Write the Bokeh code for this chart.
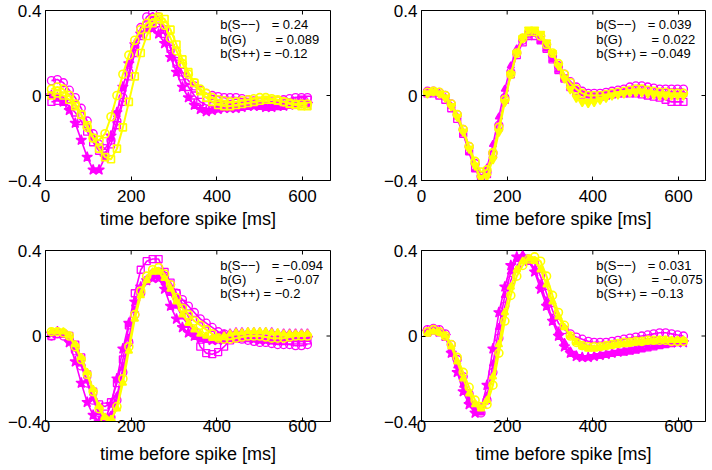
from bokeh.plotting import figure
from bokeh.layouts import gridplot
from bokeh.models import Range1d, FixedTicker, Label
from bokeh.embed import file_html
from bokeh.resources import INLINE

FONT = "Liberation Sans"
MAG = "#FF00FF"
YEL = "#FFFF00"

T = [13.9, 27.8, 41.7, 55.6, 69.5, 83.4, 97.3, 111.2, 125.1, 139.0,
     152.9, 166.8, 180.7, 194.6, 208.5, 222.4, 236.3, 250.2, 264.1, 278.0,
     291.9, 305.8, 319.7, 333.6, 347.5, 361.4, 375.3, 389.2, 403.1, 417.0,
     430.9, 444.8, 458.7, 472.6, 486.5, 500.4, 514.3, 528.2, 542.1, 556.0,
     569.9, 583.8, 597.7, 611.6]

XTICKS = [0, 200, 400, 600]
YTICKS = [-0.4, 0, 0.4]
YTICK_LABELS = {-0.4: "\u22120.4", 0: "0", 0.4: "0.4"}
XLABEL = "time before spike [ms]"

COEF_NAMES = ["b(S\u2212\u2212)", "b(G)", "b(S++)"]
P1_COEF = ["= 0.24", "= 0.089", "= \u22120.12"]
P2_COEF = ["= 0.039", "= 0.022", "= \u22120.049"]
P3_COEF = ["= \u22120.094", "= \u22120.07", "= \u22120.2"]
P4_COEF = ["= 0.031", "= \u22120.075", "= \u22120.13"]

# ---- panel 1 (top left)
P1_M_CIRCLE = [0.07, 0.075, 0.06, 0.025, -0.01, -0.06, -0.12, -0.18, -0.23, -0.25,
               -0.21, -0.12, -0.01, 0.11, 0.23, 0.32, 0.37, 0.39, 0.37, 0.31,
               0.23, 0.16, 0.11, 0.07, 0.045, 0.025, 0.01, 0.0, -0.005, -0.01,
               -0.01, -0.01, -0.015, -0.02, -0.025, -0.03, -0.03, -0.03, -0.025, -0.02,
               -0.015, -0.01, -0.01, -0.01]
P1_M_STAR = [0.0, -0.01, -0.03, -0.07, -0.13, -0.21, -0.29, -0.35, -0.35, -0.29,
             -0.19, -0.08, 0.04, 0.15, 0.24, 0.29, 0.315, 0.315, 0.29, 0.245,
             0.18, 0.11, 0.04, -0.01, -0.045, -0.065, -0.075, -0.07, -0.065, -0.06,
             -0.06, -0.06, -0.055, -0.05, -0.05, -0.05, -0.055, -0.055, -0.05, -0.05,
             -0.045, -0.04, -0.04, -0.04]
P1_M_SQUARE = [-0.03, -0.025, -0.03, -0.05, -0.08, -0.12, -0.17, -0.22, -0.26, -0.27,
               -0.23, -0.14, -0.03, 0.09, 0.2, 0.28, 0.33, 0.35, 0.34, 0.29,
               0.22, 0.15, 0.09, 0.04, 0.0, -0.03, -0.045, -0.05, -0.05, -0.045,
               -0.04, -0.035, -0.03, -0.03, -0.035, -0.04, -0.045, -0.05, -0.05, -0.045,
               -0.035, -0.025, -0.02, -0.02]
P1_Y_CIRCLE = [0.03, 0.04, 0.03, 0.0, -0.04, -0.09, -0.15, -0.2, -0.21, -0.18,
               -0.1, 0.0, 0.1, 0.19, 0.26, 0.31, 0.34, 0.36, 0.36, 0.33,
               0.27, 0.21, 0.15, 0.1, 0.06, 0.03, 0.01, -0.01, -0.02, -0.025,
               -0.03, -0.03, -0.025, -0.02, -0.015, -0.01, -0.01, -0.015, -0.02, -0.03,
               -0.035, -0.04, -0.04, -0.04]
P1_Y_SQUARE = [0.0, 0.01, 0.0, -0.02, -0.05, -0.09, -0.14, -0.2, -0.25, -0.29,
               -0.3, -0.25, -0.15, -0.03, 0.09, 0.2, 0.28, 0.34, 0.37, 0.36,
               0.31, 0.24, 0.17, 0.11, 0.06, 0.02, -0.01, -0.03, -0.045, -0.05,
               -0.05, -0.045, -0.04, -0.035, -0.03, -0.025, -0.02, -0.02, -0.025, -0.03,
               -0.04, -0.045, -0.05, -0.05]

# ---- panel 2 (top right)
P2_M_TRIANGLE = [0.01, 0.015, 0.01, -0.01, -0.05, -0.1, -0.18, -0.27, -0.35, -0.39,
                 -0.34, -0.23, -0.1, 0.03, 0.14, 0.22, 0.27, 0.29, 0.29, 0.26,
                 0.22, 0.17, 0.12, 0.08, 0.05, 0.03, 0.01, 0.0, -0.005, 0.0,
                 0.005, 0.01, 0.01, 0.015, 0.02, 0.02, 0.02, 0.015, 0.01, 0.01,
                 0.005, 0.005, 0.005, 0.005]
P2_M_CIRCLE = [0.02, 0.02, 0.015, 0.0, -0.04, -0.09, -0.16, -0.24, -0.32, -0.38,
               -0.36, -0.27, -0.14, -0.01, 0.11, 0.2, 0.26, 0.29, 0.3, 0.28,
               0.24, 0.19, 0.14, 0.1, 0.065, 0.04, 0.02, 0.01, 0.01, 0.01,
               0.015, 0.02, 0.025, 0.03, 0.04, 0.045, 0.045, 0.04, 0.035, 0.03,
               0.03, 0.03, 0.03, 0.03]
P2_M_SQUARE = [0.01, 0.01, 0.0, -0.02, -0.06, -0.11, -0.18, -0.26, -0.34, -0.39,
               -0.37, -0.28, -0.15, -0.02, 0.1, 0.19, 0.25, 0.28, 0.28, 0.26,
               0.22, 0.17, 0.12, 0.08, 0.04, 0.02, 0.0, -0.01, -0.01, -0.005,
               0.0, 0.005, 0.01, 0.01, 0.01, 0.01, 0.005, 0.0, -0.005, -0.01,
               -0.02, -0.03, -0.03, -0.03]
P2_Y_INVTRI = [0.01, 0.02, 0.01, -0.01, -0.05, -0.1, -0.17, -0.25, -0.33, -0.39,
               -0.38, -0.3, -0.17, -0.03, 0.1, 0.2, 0.27, 0.31, 0.31, 0.29,
               0.25, 0.2, 0.14, 0.08, 0.03, -0.01, -0.03, -0.035, -0.03, -0.02,
               -0.01, 0.0, 0.005, 0.01, 0.015, 0.015, 0.015, 0.01, 0.005, 0.0,
               0.0, 0.0, 0.0, 0.0]
P2_Y_CIRCLE = [0.015, 0.02, 0.015, 0.0, -0.04, -0.09, -0.16, -0.24, -0.31, -0.36,
               -0.35, -0.27, -0.15, -0.02, 0.1, 0.2, 0.27, 0.3, 0.3, 0.28,
               0.24, 0.2, 0.15, 0.1, 0.06, 0.03, 0.01, 0.0, 0.0, 0.0,
               0.005, 0.01, 0.015, 0.02, 0.025, 0.03, 0.03, 0.025, 0.02, 0.015,
               0.015, 0.01, 0.01, 0.01]

# ---- panel 3 (bottom left)
P3_M_STAR = [0.01, 0.02, 0.01, -0.03, -0.12, -0.22, -0.31, -0.37, -0.4, -0.39,
             -0.32, -0.2, -0.06, 0.06, 0.16, 0.23, 0.26, 0.27, 0.27, 0.22,
             0.14, 0.08, 0.04, 0.015, 0.0, -0.01, -0.015, -0.02, -0.02, -0.015,
             -0.01, -0.01, -0.01, -0.01, -0.015, -0.02, -0.02, -0.02, -0.015, -0.01,
             -0.01, -0.01, -0.01, -0.01]
P3_M_SQUARE = [0.0, 0.01, 0.01, 0.0, -0.04, -0.1, -0.18, -0.26, -0.32, -0.33,
               -0.31, -0.22, -0.11, 0.05, 0.2, 0.31, 0.35, 0.36, 0.36, 0.3,
               0.25, 0.2, 0.15, 0.09, 0.02, -0.05, -0.08, -0.085, -0.075, -0.05,
               -0.02, -0.01, -0.01, -0.01, -0.01, -0.01, -0.015, -0.02, -0.02, -0.02,
               -0.02, -0.02, -0.02, -0.02]
P3_M_CIRCLE = [0.0, 0.01, 0.0, -0.02, -0.07, -0.14, -0.22, -0.3, -0.36, -0.39,
               -0.38, -0.3, -0.17, -0.03, 0.1, 0.2, 0.26, 0.29, 0.3, 0.28,
               0.24, 0.2, 0.17, 0.14, 0.11, 0.08, 0.06, 0.04, 0.02, 0.01,
               0.0, -0.01, -0.015, -0.02, -0.025, -0.03, -0.03, -0.035, -0.04, -0.04,
               -0.04, -0.045, -0.045, -0.04]
P3_M_TRIANGLE = [0.01, 0.015, 0.01, -0.01, -0.06, -0.13, -0.21, -0.29, -0.36, -0.4,
                 -0.37, -0.28, -0.15, -0.01, 0.12, 0.21, 0.26, 0.28, 0.28, 0.25,
                 0.2, 0.14, 0.09, 0.05, 0.02, 0.0, -0.01, -0.01, 0.0, 0.01,
                 0.015, 0.02, 0.02, 0.02, 0.02, 0.02, 0.02, 0.02, 0.015, 0.015,
                 0.015, 0.015, 0.015, 0.015]
P3_Y_CIRCLE = [0.02, 0.02, 0.015, 0.0, -0.05, -0.11, -0.18, -0.26, -0.34, -0.39,
               -0.4, -0.33, -0.2, -0.05, 0.1, 0.21, 0.28, 0.31, 0.32, 0.29,
               0.24, 0.18, 0.13, 0.1, 0.07, 0.05, 0.03, 0.01, -0.01, -0.015,
               -0.015, -0.01, -0.005, 0.0, 0.0, 0.0, -0.005, -0.01, -0.01, -0.01,
               -0.005, 0.0, 0.0, 0.0]
P3_Y_TRIANGLE = [0.02, 0.02, 0.02, 0.0, -0.04, -0.1, -0.17, -0.25, -0.33, -0.38,
                 -0.39, -0.34, -0.22, -0.07, 0.08, 0.19, 0.26, 0.3, 0.3, 0.27,
                 0.22, 0.16, 0.1, 0.06, 0.03, 0.01, 0.0, -0.01, -0.01, 0.0,
                 0.01, 0.015, 0.015, 0.02, 0.02, 0.02, 0.02, 0.015, 0.015, 0.01,
                 0.01, 0.01, 0.01, 0.01]

# ---- panel 4 (bottom right)
P4_M_STAR = [0.02, 0.025, 0.02, 0.0, -0.08, -0.17, -0.26, -0.32, -0.36, -0.34,
             -0.23, -0.06, 0.11, 0.23, 0.33, 0.37, 0.37, 0.35, 0.3, 0.22,
             0.14, 0.07, 0.0, -0.05, -0.08, -0.095, -0.1, -0.1, -0.095, -0.09,
             -0.085, -0.08, -0.075, -0.07, -0.065, -0.06, -0.05, -0.04, -0.035, -0.03,
             -0.03, -0.03, -0.03, -0.03]
P4_M_CIRCLE = [0.03, 0.035, 0.03, 0.01, -0.04, -0.11, -0.19, -0.27, -0.33, -0.36,
               -0.3, -0.17, -0.01, 0.14, 0.26, 0.33, 0.36, 0.36, 0.34, 0.28,
               0.2, 0.12, 0.06, 0.03, 0.01, -0.005, -0.015, -0.025, -0.03, -0.03,
               -0.03, -0.025, -0.02, -0.015, -0.01, -0.005, 0.0, 0.005, 0.01, 0.015,
               0.015, 0.01, 0.005, 0.0]
P4_M_TRIANGLE = [0.01, 0.02, 0.01, -0.01, -0.06, -0.14, -0.23, -0.3, -0.35, -0.36,
                 -0.28, -0.13, 0.04, 0.19, 0.3, 0.36, 0.38, 0.36, 0.31, 0.24,
                 0.16, 0.08, 0.02, -0.03, -0.07, -0.09, -0.1, -0.1, -0.095, -0.09,
                 -0.09, -0.085, -0.08, -0.08, -0.075, -0.07, -0.065, -0.06, -0.055, -0.05,
                 -0.045, -0.04, -0.035, -0.03]
P4_Y_CIRCLE = [0.02, 0.03, 0.02, 0.0, -0.04, -0.1, -0.17, -0.24, -0.3, -0.33,
               -0.32, -0.23, -0.08, 0.07, 0.19, 0.28, 0.33, 0.36, 0.37, 0.35,
               0.28, 0.19, 0.11, 0.05, 0.0, -0.03, -0.045, -0.05, -0.05, -0.05,
               -0.045, -0.04, -0.035, -0.03, -0.03, -0.025, -0.025, -0.02, -0.02, -0.02,
               -0.02, -0.025, -0.025, -0.025]
P4_Y_TRIANGLE = [0.01, 0.02, 0.015, 0.0, -0.05, -0.12, -0.2, -0.27, -0.32, -0.34,
                 -0.3, -0.19, -0.04, 0.11, 0.23, 0.31, 0.35, 0.36, 0.35, 0.31,
                 0.24, 0.16, 0.09, 0.04, 0.0, -0.03, -0.05, -0.06, -0.06, -0.055,
                 -0.05, -0.045, -0.04, -0.04, -0.035, -0.03, -0.03, -0.025, -0.025, -0.02,
                 -0.02, -0.02, -0.02, -0.02]

# (values, color, marker, size, filled)
PANEL1 = [(P1_M_SQUARE, MAG, "square", 7, False),
          (P1_M_CIRCLE, MAG, "circle", 8, False),
          (P1_M_STAR, MAG, "star", 11, True),
          (P1_Y_SQUARE, YEL, "square", 7, False),
          (P1_Y_CIRCLE, YEL, "circle", 8, False)]
PANEL2 = [(P2_M_SQUARE, MAG, "square", 7, False),
          (P2_M_CIRCLE, MAG, "circle", 8, False),
          (P2_M_TRIANGLE, MAG, "triangle", 7, True),
          (P2_Y_CIRCLE, YEL, "circle", 8, False),
          (P2_Y_INVTRI, YEL, "inverted_triangle", 8, True)]
PANEL3 = [(P3_M_TRIANGLE, MAG, "triangle", 7, True),
          (P3_M_CIRCLE, MAG, "circle", 8, False),
          (P3_M_SQUARE, MAG, "square", 7, False),
          (P3_M_STAR, MAG, "star", 11, True),
          (P3_Y_TRIANGLE, YEL, "triangle", 7, True),
          (P3_Y_CIRCLE, YEL, "circle", 8, False)]
PANEL4 = [(P4_M_TRIANGLE, MAG, "triangle", 7, True),
          (P4_M_CIRCLE, MAG, "circle", 8, False),
          (P4_M_STAR, MAG, "star", 11, True),
          (P4_Y_TRIANGLE, YEL, "triangle", 7, True),
          (P4_Y_CIRCLE, YEL, "circle", 8, False)]

ANN_Y = [0.332, 0.264, 0.197]
ANN_X_NAME = 408
ANN_X_EQ = [528, 537, 509]
PX_PER_MS = 0.4283
TICK_PX = 4


def style_axis(ax, ticks):
    ax.ticker = FixedTicker(ticks=ticks)
    ax.major_tick_in = TICK_PX
    ax.major_tick_out = 0
    ax.minor_tick_in = 0
    ax.minor_tick_out = 0
    ax.axis_line_color = "black"
    ax.major_tick_line_color = "black"
    ax.major_label_text_font = FONT
    ax.major_label_text_font_size = "17px"
    ax.major_label_text_color = "black"


def make_panel(series, coefs, frame_w, frame_h, mb, x_standoff, xl_standoff):
    x_end = frame_w / PX_PER_MS
    p = figure(width=mb[0] + frame_w + mb[1], height=mb[2] + frame_h + mb[3],
               output_backend="svg", toolbar_location=None,
               x_range=Range1d(0, x_end), y_range=Range1d(-0.4, 0.4),
               min_border_left=mb[0], min_border_right=mb[1],
               min_border_top=mb[2], min_border_bottom=mb[3])
    p.grid.visible = False
    p.outline_line_color = "black"
    p.background_fill_color = "white"
    p.border_fill_color = "white"

    for vals, color, marker, size, filled in series:
        lw = 2.0 if color == YEL else 1.6
        p.line(T, vals, line_color=color, line_width=lw)
        p.scatter(T, vals, marker=marker, size=size, line_color=color,
                  line_width=1.6 if color == YEL else 1.3,
                  fill_color=color if filled else None)

    # mirrored inward ticks on top and right edges of the box
    ty = 0.8 * TICK_PX / frame_h
    tx = TICK_PX / PX_PER_MS
    p.segment(x0=XTICKS, y0=[0.4] * len(XTICKS), x1=XTICKS, y1=[0.4 - ty] * len(XTICKS),
              line_color="black", line_width=1)
    p.segment(x0=[x_end] * len(YTICKS), y0=YTICKS, x1=[x_end - tx] * len(YTICKS), y1=YTICKS,
              line_color="black", line_width=1)

    xa = p.xaxis[0]
    style_axis(xa, XTICKS)
    xa.major_label_standoff = x_standoff
    xa.axis_label = XLABEL
    xa.axis_label_text_font = FONT
    xa.axis_label_text_font_size = "18px"
    xa.axis_label_text_font_style = "normal"
    xa.axis_label_text_color = "black"
    xa.axis_label_standoff = xl_standoff

    ya = p.yaxis[0]
    style_axis(ya, YTICKS)
    ya.major_label_overrides = YTICK_LABELS
    ya.major_label_standoff = 4

    for i in range(3):
        p.add_layout(Label(x=ANN_X_NAME, y=ANN_Y[i], text=COEF_NAMES[i],
                           text_font=FONT, text_font_size="13px",
                           text_baseline="middle", text_color="black"))
        p.add_layout(Label(x=ANN_X_EQ[i], y=ANN_Y[i], text=coefs[i],
                           text_font=FONT, text_font_size="13px",
                           text_baseline="middle", text_color="black"))
    return p


# margins: (left, right, top, bottom)
p1 = make_panel(PANEL1, P1_COEF, 285, 170, (45, 26, 10, 55), 9, 4)
p2 = make_panel(PANEL2, P2_COEF, 284, 170, (65, 5, 10, 55), 9, 4)
p3 = make_panel(PANEL3, P3_COEF, 285, 171, (45, 26, 15, 48), -2, 9)
p4 = make_panel(PANEL4, P4_COEF, 284, 171, (65, 5, 15, 48), -2, 9)

grid = gridplot([[p1, p2], [p3, p4]], toolbar_location=None)

open("out.html", "w").write(file_html(grid, INLINE))
